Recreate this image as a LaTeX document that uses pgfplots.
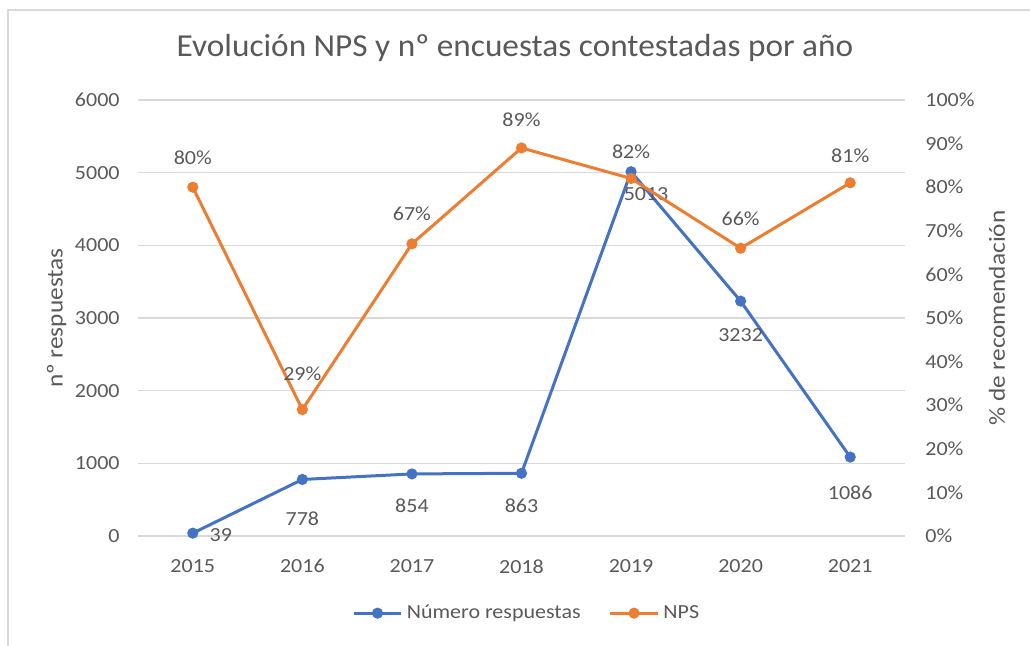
\documentclass[border=0pt]{standalone}
\usepackage{pgfplots}
\pgfplotsset{compat=1.18}
\usepackage{pgfplotstable}
\usepackage{fontspec}
\setmainfont{Carlito}
\newfontfamily\widefont[FakeStretch=1.1]{Carlito}
\newfontfamily\titlefont[FakeStretch=1.04]{Carlito}
\newcommand\smallfont{\widefont\fontsize{10}{12}\selectfont}
\newcommand\labfont{\widefont\fontsize{11.5}{13}\selectfont}
\definecolor{cblue}{HTML}{4472C4}
\definecolor{corange}{HTML}{ED7D31}
\definecolor{ctext}{HTML}{595959}
\definecolor{cgrid}{HTML}{D9D9D9}

\pgfplotstableread{
x y lab dx dy
0 39 39 14 -1
1 778 778 0 -19.5
2 854 854 0 -16
3 863 863 0 -16
4 5013 5013 7.5 -11
5 3232 3232 0 -17
6 1086 1086 0 -18
}\tblue

\pgfplotstableread{
x y lab dx dy
0 80 80 0 14.5
1 29 29 0 18
2 67 67 0 15
3 89 89 0 14
4 82 82 0 13.5
5 66 66 0 14.5
6 81 81 0 13.5
}\torange

\begin{document}
\begin{tikzpicture}
\path[use as bounding box] (0,0) rectangle (515pt,323pt);
\draw[cgrid, line width=0.8pt] (4pt,0) -- (4pt,318pt) -- (515pt,318pt);
\node[text=ctext, font=\titlefont\fontsize{16}{19}\selectfont] at (257.5pt,299pt) {Evolución NPS y nº encuestas contestadas por año};

\begin{axis}[
  at={(69pt,55pt)}, anchor=south west,
  scale only axis, width=383.5pt, height=218pt,
  xmin=-0.5, xmax=6.5, ymin=0, ymax=6000,
  xtick={0,...,6}, xticklabels={2015,2016,2017,2018,2019,2020,2021},
  ytick={0,1000,...,6000},
  ymajorgrids, grid style={cgrid, line width=0.75pt},
  axis line style={draw=none}, tick style={draw=none},
  font=\smallfont,
  /pgf/number format/assume math mode=true,
  /pgf/number format/1000 sep={},
  ticklabel style={text=ctext},
  yticklabel style={inner xsep=0pt, xshift=-9pt},
  xticklabel style={inner ysep=0pt, yshift=-11.5pt},
  ylabel={nº respuestas},
  every axis y label/.style={at={(axis description cs:-0.106,0.5)}, rotate=90, anchor=center, text=ctext, font=\labfont},
]
\addplot[cblue, line width=1.5pt, mark=*, mark size=2pt,
  point meta=explicit symbolic,
  visualization depends on={\thisrow{dx}\as\dx},
  visualization depends on={\thisrow{dy}\as\dy},
  nodes near coords,
  nodes near coords style={anchor=center, text=ctext, xshift=\dx pt, yshift=\dy pt, font=\smallfont}]
  table[x=x, y=y, meta=lab] {\tblue};
\end{axis}

\begin{axis}[
  at={(69pt,55pt)}, anchor=south west,
  scale only axis, width=383.5pt, height=218pt,
  xmin=-0.5, xmax=6.5, ymin=0, ymax=100,
  axis x line=none,
  axis y line*=right,
  ytick={0,10,...,100},
  yticklabel={\pgfmathprintnumber{\tick}\%},
  axis line style={draw=none}, tick style={draw=none},
  font=\smallfont,
  /pgf/number format/assume math mode=true,
  ticklabel style={text=ctext},
  yticklabel style={inner xsep=0pt, xshift=10pt, anchor=west},
  ylabel={\% de recomendación},
  every axis y label/.style={at={(axis description cs:1.12,0.5)}, rotate=90, anchor=center, text=ctext, font=\labfont},
  legend columns=2,
  legend style={at={(axis description cs:0.508,-0.177)}, anchor=center, draw=none, fill=none,
    text=ctext, font=\smallfont,
    /tikz/every even column/.append style={column sep=12pt}},
  legend image code/.code={\draw[mark repeat=2, mark phase=2] plot coordinates {(0cm,0cm) (0.42cm,0cm) (0.84cm,0cm)};},
]
\addlegendimage{cblue, line width=1.5pt, mark=*, mark size=2pt}
\addlegendentry{Número respuestas}
\addplot[corange, line width=1.5pt, mark=*, mark size=2pt,
  point meta=explicit symbolic,
  visualization depends on={\thisrow{dx}\as\dx},
  visualization depends on={\thisrow{dy}\as\dy},
  nodes near coords={\pgfplotspointmeta\%},
  nodes near coords style={anchor=center, text=ctext, xshift=\dx pt, yshift=\dy pt, font=\smallfont}]
  table[x=x, y=y, meta=lab] {\torange};
\addlegendentry{NPS}
\end{axis}
\end{tikzpicture}
\end{document}
